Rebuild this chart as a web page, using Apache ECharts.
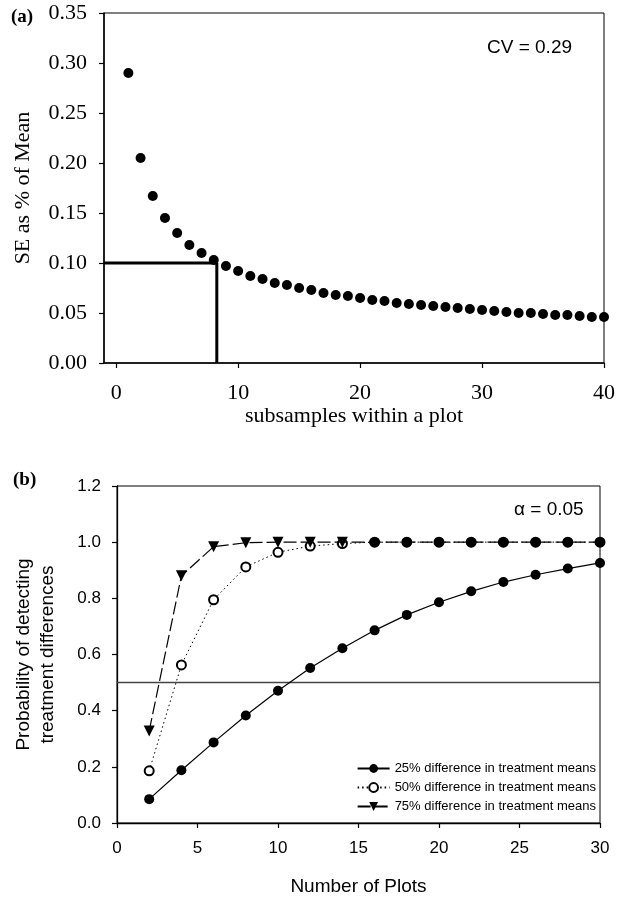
<!DOCTYPE html>
<html>
<head>
<meta charset="utf-8">
<script src="https://cdn.jsdelivr.net/npm/echarts@6/dist/echarts.min.js"></script>
<style>
  html, body { margin: 0; padding: 0; background: #fff; }
  #chart { width: 618px; height: 903px; }
</style>
</head>
<body>
<div id="chart"></div>
<script>
// ---- Panel (a) data ----
const subsamples = [1,2,3,4,5,6,7,8,9,10,11,12,13,14,15,16,17,18,19,20,
                    21,22,23,24,25,26,27,28,29,30,31,32,33,34,35,36,37,38,39,40];
const seValues = [0.290,0.205,0.167,0.145,0.130,0.118,0.110,0.103,0.097,0.092,
                  0.087,0.084,0.080,0.078,0.075,0.073,0.070,0.068,0.067,0.065,
                  0.063,0.062,0.060,0.059,0.058,0.057,0.056,0.055,0.054,0.053,
                  0.052,0.051,0.050,0.050,0.049,0.048,0.048,0.047,0.046,0.046];
const refLineA = [[-1, 0.10], [8.25, 0.10], [8.25, 0]];
const xTicksA = [0, 10, 20, 30, 40];

// ---- Panel (b) data ----
const plots = [2,4,6,8,10,12,14,16,18,20,22,24,26,28,30];
const p25 = [0.085,0.188,0.287,0.383,0.471,0.552,0.622,0.686,0.741,0.786,0.825,0.858,0.884,0.906,0.926];
const p50 = [0.186,0.563,0.795,0.912,0.964,0.986,0.995,1.000,1.000,1.000,1.000,1.000,1.000,1.000,1.000];
const p75 = [0.328,0.880,0.984,0.998,1.000,1.000,1.000,1.000,1.000,1.000,1.000,1.000,1.000,1.000,1.000];
const halfLine = [[0, 0.5], [30, 0.5]];
const seriesNames = ['25% difference in treatment means',
                     '50% difference in treatment means',
                     '75% difference in treatment means'];

const SERIF = '"Liberation Serif", "Times New Roman", serif';
const SANS = '"Liberation Sans", Arial, sans-serif';

const zip = (xs, ys) => xs.map((x, i) => [x, ys[i]]);

const chart = echarts.init(document.getElementById('chart'), null, { renderer: 'canvas' });

const option = {
  backgroundColor: '#fff',
  animation: false,
  grid: [
    { left: 104, top: 13, width: 501, height: 350, show: true, borderColor: '#000', borderWidth: 1, backgroundColor: 'transparent', containLabel: false },
    { left: 117, top: 486, width: 483, height: 337, show: true, borderColor: '#000', borderWidth: 1, backgroundColor: 'transparent', containLabel: false }
  ],
  xAxis: [
    {
      gridIndex: 0, type: 'value', min: -1, max: 40,
      axisLine: { show: true, onZero: false, lineStyle: { color: '#000', width: 1.5 } },
      axisTick: { show: true, inside: false, length: 5, customValues: xTicksA, lineStyle: { color: '#000', width: 1.2 } },
      axisLabel: { customValues: xTicksA, margin: 19, color: '#000', fontFamily: SERIF, fontSize: 22 },
      splitLine: { show: false },
      name: 'subsamples within a plot', nameLocation: 'middle', nameGap: 42,
      nameTextStyle: { color: '#000', fontFamily: SERIF, fontSize: 22 }
    },
    {
      gridIndex: 1, type: 'value', min: 0, max: 30, interval: 5,
      axisLine: { show: true, onZero: false, lineStyle: { color: '#000', width: 1.3 } },
      axisTick: { show: true, inside: false, length: 5, lineStyle: { color: '#000', width: 1.2 } },
      axisLabel: { margin: 17, color: '#000', fontFamily: SANS, fontSize: 17 },
      splitLine: { show: false },
      name: 'Number of Plots', nameLocation: 'middle', nameGap: 54,
      nameTextStyle: { color: '#000', fontFamily: SANS, fontSize: 19 }
    }
  ],
  yAxis: [
    {
      gridIndex: 0, type: 'value', min: 0, max: 0.35, interval: 0.05,
      axisLine: { show: true, onZero: false, lineStyle: { color: '#000', width: 1.5 } },
      axisTick: { show: true, inside: false, length: 5, lineStyle: { color: '#000', width: 1.2 } },
      axisLabel: { margin: 17, color: '#000', fontFamily: SERIF, fontSize: 22, formatter: v => v.toFixed(2) },
      splitLine: { show: false },
      name: 'SE as % of Mean', nameLocation: 'middle', nameGap: 70, nameRotate: 90,
      nameTextStyle: { color: '#000', fontFamily: SERIF, fontSize: 22 }
    },
    {
      gridIndex: 1, type: 'value', min: 0, max: 1.2, interval: 0.2,
      axisLine: { show: true, onZero: false, lineStyle: { color: '#000', width: 1.3 } },
      axisTick: { show: true, inside: false, length: 5, lineStyle: { color: '#000', width: 1.2 } },
      axisLabel: { margin: 16, color: '#000', fontFamily: SANS, fontSize: 17, formatter: v => v.toFixed(1) },
      splitLine: { show: false },
      name: 'Probability of detecting\ntreatment differences', nameLocation: 'middle', nameGap: 57, nameRotate: 90,
      nameTextStyle: { color: '#000', fontFamily: SANS, fontSize: 19, lineHeight: 24, align: 'center' }
    }
  ],
  legend: {
    data: seriesNames.map(n => ({ name: n })),
    orient: 'vertical',
    right: 22, top: 762,
    itemWidth: 32, itemHeight: 11, itemGap: 6,
    selectedMode: false,
    textStyle: { color: '#000', fontFamily: SANS, fontSize: 13 },
    padding: 0
  },
  graphic: [
    { type: 'text', left: 11, top: 8, style: { text: '(a)', fill: '#000', font: 'bold 19px ' + SERIF } },
    { type: 'text', left: 13, top: 471, style: { text: '(b)', fill: '#000', font: 'bold 19px ' + SERIF } },
    { type: 'text', left: 487, top: 38, style: { text: 'CV = 0.29', fill: '#000', font: '19px ' + SANS } },
    { type: 'text', left: 514, top: 500, style: { text: 'α = 0.05', fill: '#000', font: '19px ' + SANS } }
  ],
  series: [
    {
      name: 'refA', type: 'line', xAxisIndex: 0, yAxisIndex: 0,
      data: refLineA, showSymbol: false, symbol: 'none', silent: true,
      lineStyle: { color: '#000', width: 3 }, z: 2
    },
    {
      name: 'SE', type: 'scatter', xAxisIndex: 0, yAxisIndex: 0,
      data: zip(subsamples, seValues), symbol: 'circle', symbolSize: 10, clip: false,
      itemStyle: { color: '#000', opacity: 1 }, z: 3
    },
    {
      name: 'half', type: 'line', xAxisIndex: 1, yAxisIndex: 1,
      data: halfLine, symbol: 'none', silent: true,
      lineStyle: { color: '#444', width: 1.5 }, z: 1
    },
    {
      name: seriesNames[0], type: 'line', xAxisIndex: 1, yAxisIndex: 1,
      data: zip(plots, p25), symbol: 'circle', symbolSize: 10, showAllSymbol: true, clip: false,
      itemStyle: { color: '#000', opacity: 1 }, lineStyle: { color: '#000', width: 1.2, type: 'solid' }, z: 3
    },
    {
      name: seriesNames[1], type: 'line', xAxisIndex: 1, yAxisIndex: 1,
      data: zip(plots, p50), symbol: 'emptyCircle', symbolSize: 9, showAllSymbol: true, clip: false,
      itemStyle: { color: '#000', borderColor: '#000', borderWidth: 1.3 },
      lineStyle: { color: '#000', width: 1, type: [1.5, 3] }, z: 4
    },
    {
      name: seriesNames[2], type: 'line', xAxisIndex: 1, yAxisIndex: 1,
      data: zip(plots, p75).map(d => d[0] >= 16 ? { value: d, symbol: 'circle', symbolSize: 10, symbolRotate: 0 } : d),
      symbol: 'triangle', symbolRotate: 180, symbolSize: 11, showAllSymbol: true, clip: false,
      itemStyle: { color: '#000' }, lineStyle: { color: '#000', width: 1.2, type: [13, 4] }, z: 5
    }
  ]
};

chart.setOption(option);
</script>
</body>
</html>
